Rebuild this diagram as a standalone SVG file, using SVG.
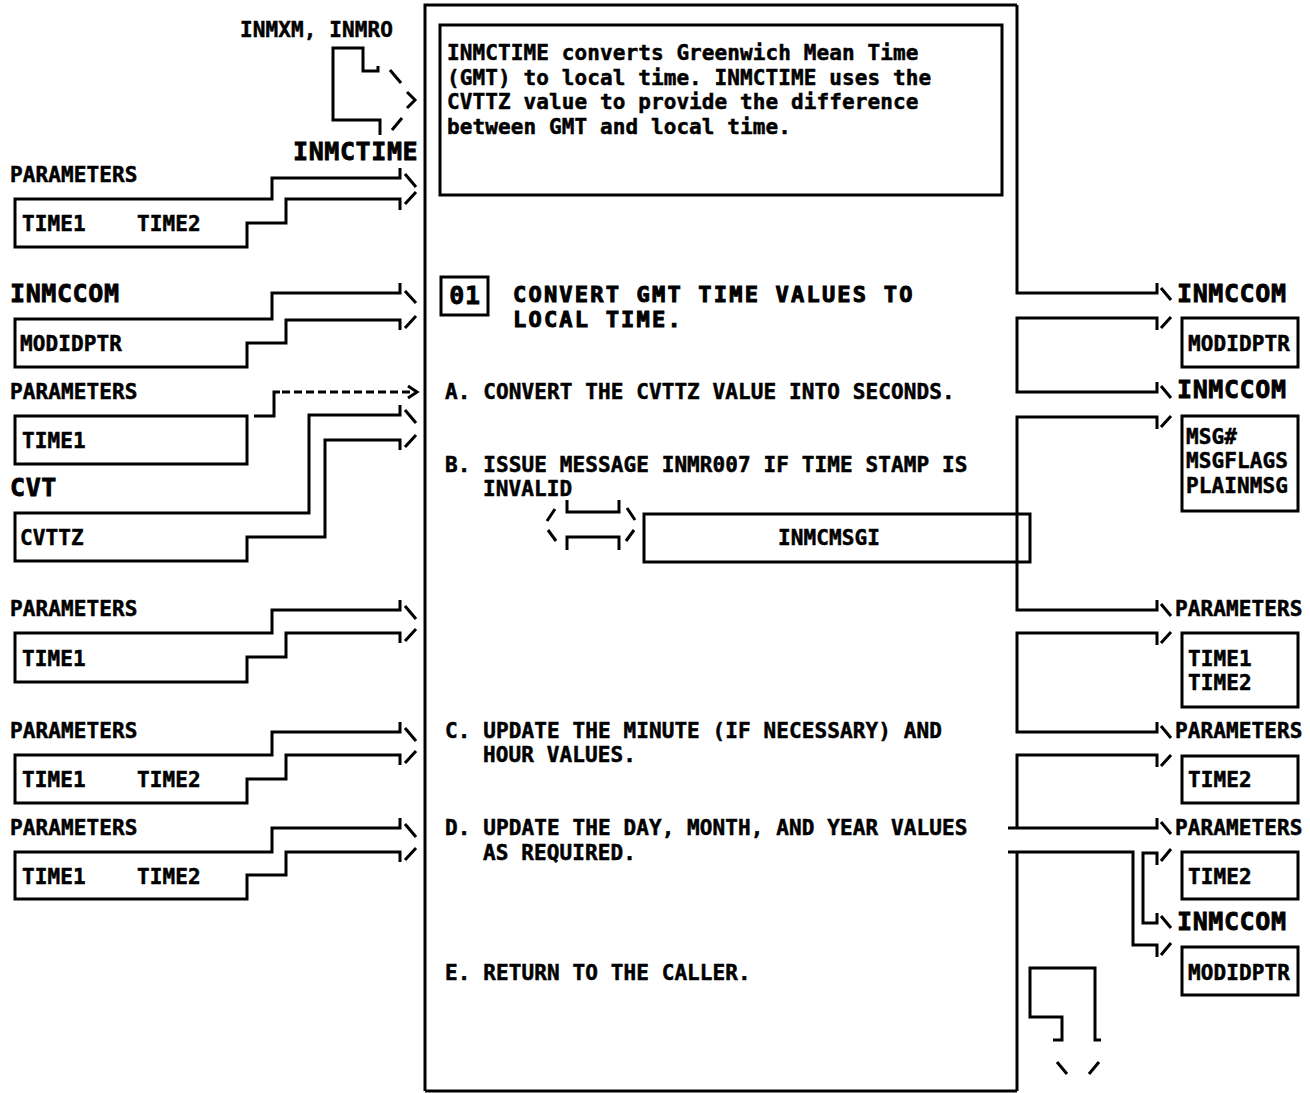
<svg xmlns="http://www.w3.org/2000/svg" width="1310" height="1093" viewBox="0 0 1310 1093">
<style>
.t{font-family:"DejaVu Sans Mono","Liberation Mono",monospace;font-weight:bold;font-size:21px;letter-spacing:0.1px;fill:#000;stroke:#000;stroke-width:0.5}
.L{font-size:25px;letter-spacing:0.6px;stroke-width:0.8}
.T{font-size:22px;letter-spacing:2.2px;stroke-width:1}
.ln{fill:none;stroke:#000;stroke-width:3;stroke-linejoin:miter}
.dash{stroke-dasharray:8 4}
</style>
<rect width="1310" height="1093" fill="#fff"/>

<g id="main">
<path class="ln" d="M425 1091 V5 H1017"/>
<path class="ln" d="M425 1091 H1017"/>
</g>

<g id="desc">
<rect class="ln" x="440" y="25" width="562" height="170"/>
<text class="t" x="447" y="60">INMCTIME converts Greenwich Mean Time</text>
<text class="t" x="447" y="85">(GMT) to local time. INMCTIME uses the</text>
<text class="t" x="447" y="109">CVTTZ value to provide the difference</text>
<text class="t" x="447" y="134">between GMT and local time.</text>
</g>

<g id="step01">
<rect class="ln" x="441" y="277" width="47" height="38"/>
<text class="t L" x="465" y="304" text-anchor="middle">01</text>
<text class="t T" x="513" y="302">CONVERT GMT TIME VALUES TO</text>
<text class="t T" x="513" y="327">LOCAL TIME.</text>
</g>

<g id="steps">
<text class="t" x="445" y="399">A. CONVERT THE CVTTZ VALUE INTO SECONDS.</text>
<text class="t" x="445" y="472">B. ISSUE MESSAGE INMR007 IF TIME STAMP IS</text>
<text class="t" x="483" y="496">INVALID</text>
<text class="t" x="445" y="738">C. UPDATE THE MINUTE (IF NECESSARY) AND</text>
<text class="t" x="483" y="762">HOUR VALUES.</text>
<text class="t" x="445" y="835">D. UPDATE THE DAY, MONTH, AND YEAR VALUES</text>
<text class="t" x="483" y="860">AS REQUIRED.</text>
<text class="t" x="445" y="980">E. RETURN TO THE CALLER.</text>
</g>

<g id="inmcmsgi">
<rect class="ln" x="644" y="514" width="386" height="48"/>
<text class="t" x="829" y="545" text-anchor="middle">INMCMSGI</text>
</g>

<g id="left-inmxm">
<text class="t" x="240" y="37">INMXM, INMRO</text>
<text class="t L" x="293" y="160">INMCTIME</text>
</g>

<g id="left-params1">
<text class="t" x="10" y="182">PARAMETERS</text>
<text class="t" x="22" y="231">TIME1</text>
<text class="t" x="137" y="231">TIME2</text>
</g>

<g id="left-inmccom">
<text class="t L" x="10" y="302">INMCCOM</text>
<text class="t" x="20" y="351">MODIDPTR</text>
</g>

<g id="left-params2">
<text class="t" x="10" y="399">PARAMETERS</text>
<rect class="ln" x="15" y="416" width="232" height="48"/>
<text class="t" x="22" y="448">TIME1</text>
</g>

<g id="left-cvt">
<text class="t L" x="10" y="496">CVT</text>
<text class="t" x="20" y="545">CVTTZ</text>
</g>

<g id="left-params3">
<text class="t" x="10" y="616">PARAMETERS</text>
<text class="t" x="22" y="666">TIME1</text>
</g>

<g id="left-params4">
<text class="t" x="10" y="738">PARAMETERS</text>
<text class="t" x="22" y="787">TIME1</text>
<text class="t" x="137" y="787">TIME2</text>
</g>

<g id="left-params5">
<text class="t" x="10" y="835">PARAMETERS</text>
<text class="t" x="22" y="884">TIME1</text>
<text class="t" x="137" y="884">TIME2</text>
</g>

<g id="right-inmccom1">
<text class="t L" x="1177" y="302">INMCCOM</text>
<rect class="ln" x="1182" y="318" width="116" height="49"/>
<text class="t" x="1188" y="351">MODIDPTR</text>
</g>

<g id="right-inmccom2">
<text class="t L" x="1177" y="398">INMCCOM</text>
<rect class="ln" x="1182" y="416" width="116" height="95"/>
<text class="t" x="1186" y="444">MSG#</text>
<text class="t" x="1186" y="468">MSGFLAGS</text>
<text class="t" x="1186" y="493">PLAINMSG</text>
</g>

<g id="right-params1">
<text class="t" x="1175" y="616">PARAMETERS</text>
<rect class="ln" x="1182" y="633" width="116" height="74"/>
<text class="t" x="1188" y="666">TIME1</text>
<text class="t" x="1188" y="690">TIME2</text>
</g>

<g id="right-params2">
<text class="t" x="1175" y="738">PARAMETERS</text>
<rect class="ln" x="1182" y="756" width="116" height="47"/>
<text class="t" x="1188" y="787">TIME2</text>
</g>

<g id="right-params3">
<text class="t" x="1175" y="835">PARAMETERS</text>
<rect class="ln" x="1182" y="852" width="116" height="47"/>
<text class="t" x="1188" y="884">TIME2</text>
</g>

<g id="right-inmccom3">
<text class="t L" x="1177" y="930">INMCCOM</text>
<rect class="ln" x="1182" y="947" width="116" height="48"/>
<text class="t" x="1188" y="980">MODIDPTR</text>
</g>

<g id="connectors">
<path class="ln" d="M378 66 V71 H363 V48 H333 V120 H380 V135"/>
<path class="ln" d="M390 70 L401 83 M407 92 L415 100 L407 108 M392 130 L402 118"/>

<path class="ln" d="M400 168 V178 H272 V199 H15 V247 H247 V223 H286 V199 H400 V210"/>
<path class="ln" d="M405 174 L416 187 M405 204 L416 192"/>

<path class="ln" d="M400 283 V293 H272 V319 H15 V367 H247 V343 H286 V320 H400 V330"/>
<path class="ln" d="M405 291 L416 303 M405 328 L416 316"/>

<path class="ln" d="M254 416 H274 V392 H280"/>
<path class="ln dash" d="M282 392 H410"/>
<path class="ln" d="M408 386 L417 392 L408 398"/>

<path class="ln" d="M400 405 V415 H309 V513 H15 V561 H247 V537 H325 V440 H400 V450"/>
<path class="ln" d="M405 410 L416 423 M405 447 L416 435"/>

<path class="ln" d="M400 600 V610 H272 V633 H15 V682 H247 V657 H286 V633 H400 V643"/>
<path class="ln" d="M405 606 L416 619 M405 641 L416 629"/>

<path class="ln" d="M400 722 V732 H272 V755 H15 V803 H247 V779 H286 V755 H400 V765"/>
<path class="ln" d="M405 728 L416 741 M405 763 L416 751"/>

<path class="ln" d="M400 818 V828 H272 V852 H15 V899 H247 V875 H286 V852 H400 V862"/>
<path class="ln" d="M405 824 L416 837 M405 860 L416 848"/>

<path class="ln" d="M567 500 V512 H619 V500 M567 550 V537 H619 V550"/>
<path class="ln" d="M547 521 L555 509 M548 530 L556 541 M627 508 L635 520 M626 541 L634 530"/>

<path class="ln" d="M1017 5 V293 H1157 V283"/>
<path class="ln" d="M1157 330 V318 H1017 V392 H1157 V382"/>
<path class="ln" d="M1157 429 V417 H1017 V610 H1157 V600"/>
<path class="ln" d="M1157 645 V633 H1017 V732 H1157 V722"/>
<path class="ln" d="M1157 767 V755 H1017 V828"/>
<path class="ln" d="M1008 828 H1157 V818"/>
<path class="ln" d="M1008 852 H1133 V945 H1157 V957"/>
<path class="ln" d="M1157 865 V853 H1143 V923 H1157 V913"/>
<path class="ln" d="M1017 852 V1091"/>
<path class="ln" d="M1161 288 L1171 300 M1161 328 L1171 317 M1161 386 L1171 398 M1161 427 L1171 416 M1161 604 L1171 616 M1161 643 L1171 632 M1161 726 L1171 738 M1161 766 L1171 755 M1161 822 L1171 834 M1161 861 L1171 849 M1161 916 L1171 928 M1161 955 L1171 943"/>

<path class="ln" d="M1053 1040 H1062 V1017 H1030 V968 H1095 V1040 H1101"/>
<path class="ln" d="M1057 1062 L1067 1074 M1089 1074 L1099 1062"/>
</g>
</svg>
